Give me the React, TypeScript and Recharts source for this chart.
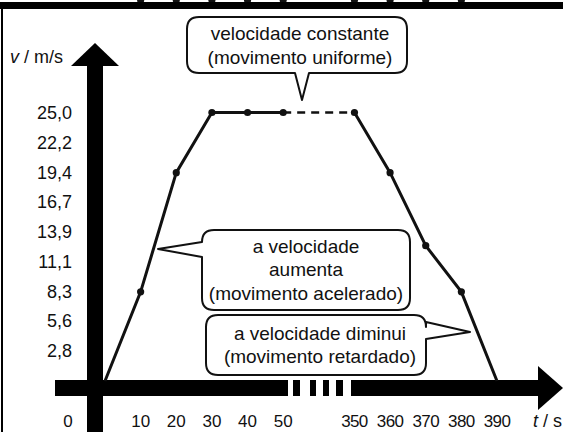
import React from 'react';
import { LineChart, Line, XAxis, YAxis, Customized } from 'recharts';

// tempo (s) e velocidade (m/s)
const times = [0, 10, 20, 30, 40, 50, 350, 360, 370, 380, 390];
const speeds = [0, 8.3, 19.4, 25, 25, 25, 25, 19.4, 12.6, 8.3, 0];
const yTicks = [2.8, 5.6, 8.3, 11.1, 13.9, 16.7, 19.4, 22.2, 25.0];
const xTickTimes = [0, 10, 20, 30, 40, 50, 350, 360, 370, 380, 390];

// the time axis is broken between 50 s and 350 s
const GAP = 280;
const compress = (t: number) => (t <= 50 ? t : t - GAP);
const expand = (p: number) => (p <= 50 ? p : p + GAP);

const rows = times.map((t, i) => ({
    x: compress(t),
    t,
    acc: t <= 50 ? speeds[i] : null,
    dash: t === 50 || t === 350 ? speeds[i] : null,
    dec: t >= 350 ? speeds[i] : null,
}));

const W = 563;
const H = 432;
const FONT = '"Liberation Sans", Arial, Helvetica, sans-serif';
const INK = '#111';

const Dot = (props: any) => {
    const { cx, cy, payload, index } = props;
    if (payload.t === 0 || payload.t === 390) return <g key={'d' + index} />;
    return <circle key={'d' + index} cx={cx} cy={cy} r={3.6} fill={INK} />;
};

const XTick = (props: any) => {
    const { x, y, payload } = props;
    const t = expand(payload.value);
    return (
        <text
            x={t === 0 ? x - 37 : x}
            y={y + 38}
            textAnchor="middle"
            fontFamily={FONT}
            fontSize={17}
            fill={INK}
            letterSpacing={t >= 350 ? -0.6 : 0}
        >
            {t}
        </text>
    );
};

const YTick = (props: any) => {
    const { x, y, payload } = props;
    return (
        <text
            x={x}
            y={y}
            textAnchor="end"
            dominantBaseline="central"
            fontFamily={FONT}
            fontSize={18}
            fill={INK}
        >
            {payload.value.toFixed(1).replace('.', ',')}
        </text>
    );
};

// rounded box with a pointer on one side
const calloutPath = (
    x0: number, y0: number, x1: number, y1: number, r: number,
    side: 'bottom' | 'left' | 'right', p1: number, p2: number, tx: number, ty: number
) => {
    let d = `M${x0 + r},${y0} L${x1 - r},${y0} Q${x1},${y0} ${x1},${y0 + r} `;
    if (side === 'right') d += `L${x1},${p1} L${tx},${ty} L${x1},${p2} `;
    d += `L${x1},${y1 - r} Q${x1},${y1} ${x1 - r},${y1} `;
    if (side === 'bottom') d += `L${p2},${y1} L${tx},${ty} L${p1},${y1} `;
    d += `L${x0 + r},${y1} Q${x0},${y1} ${x0},${y1 - r} `;
    if (side === 'left') d += `L${x0},${p2} L${tx},${ty} L${x0},${p1} `;
    d += `L${x0},${y0 + r} Q${x0},${y0} ${x0 + r},${y0} Z`;
    return d;
};

const Callout = ({ d, lines, cx, y0, step }: { d: string; lines: string[]; cx: number; y0: number; step: number }) => (
    <g>
        <path d={d} fill="#fff" stroke={INK} strokeWidth={2} strokeLinejoin="round" />
        {lines.map((s, i) => (
            <text
                key={i}
                x={cx}
                y={y0 + i * step}
                textAnchor="middle"
                dominantBaseline="central"
                fontFamily={FONT}
                fontSize={19}
                fill={INK}
            >
                {s}
            </text>
        ))}
    </g>
);

const Decor = () => (
    <g>
        {/* eixo v */}
        <rect x={87} y={62} width={16} height={H - 62} fill="#000" />
        <polygon points="95,43 71,66 119,66" fill="#000" />

        {/* eixo t, com interrupção */}
        <rect x={55} y={380} width={233} height={16} fill="#000" />
        <rect x={293} y={380} width={7} height={16} fill="#000" />
        <rect x={310} y={380} width={6} height={16} fill="#000" />
        <rect x={323} y={380} width={6} height={16} fill="#000" />
        <rect x={336} y={380} width={7} height={16} fill="#000" />
        <rect x={351} y={380} width={191} height={16} fill="#000" />
        <polygon points="538,366 563,388 538,410" fill="#000" />

        <text x={10} y={57} dominantBaseline="central" fontFamily={FONT} fontSize={18} fill={INK}>
            <tspan fontStyle="italic">v</tspan> / m/s
        </text>
        <text x={533} y={421} dominantBaseline="central" fontFamily={FONT} fontSize={18} fill={INK}>
            <tspan fontStyle="italic">t</tspan> / s
        </text>

        <Callout
            d={calloutPath(187, 17, 407, 73, 12, 'bottom', 295, 309, 302, 100)}
            lines={['velocidade constante', '(movimento uniforme)']}
            cx={300}
            y0={33}
            step={24}
        />
        <Callout
            d={calloutPath(202, 230, 410, 310, 12, 'left', 242, 257, 158, 249)}
            lines={['a velocidade', 'aumenta', '(movimento acelerado)']}
            cx={306}
            y0={246}
            step={23.5}
        />
        <Callout
            d={calloutPath(206, 315, 426, 375, 12, 'right', 322, 339, 470, 332)}
            lines={['a velocidade diminui', '(movimento retardado)']}
            cx={320}
            y0={333}
            step={23}
        />
    </g>
);

export default function App() {
    return (
        <div style={{ position: 'absolute', left: 0, top: 0, width: W, height: H, background: '#fff', overflow: 'hidden' }}>
            <LineChart
                width={W}
                height={H}
                data={rows}
                margin={{ top: 112.5, right: 66, bottom: 21, left: 0 }}
            >
                <XAxis
                    dataKey="x"
                    type="number"
                    domain={[0, 110]}
                    ticks={xTickTimes.map(compress)}
                    tick={<XTick />}
                    axisLine={false}
                    tickLine={false}
                    height={30}
                    interval={0}
                />
                <YAxis
                    type="number"
                    domain={[0, 25]}
                    ticks={yTicks}
                    tick={<YTick />}
                    axisLine={false}
                    tickLine={false}
                    tickSize={0}
                    tickMargin={33}
                    width={105}
                    interval={0}
                />
                <Line
                    dataKey="dash"
                    stroke={INK}
                    strokeWidth={2.5}
                    strokeDasharray="8 6"
                    dot={false}
                    connectNulls={false}
                    isAnimationActive={false}
                />
                <Line
                    dataKey="acc"
                    stroke={INK}
                    strokeWidth={3}
                    dot={<Dot />}
                    connectNulls={false}
                    isAnimationActive={false}
                />
                <Line
                    dataKey="dec"
                    stroke={INK}
                    strokeWidth={3}
                    dot={<Dot />}
                    connectNulls={false}
                    isAnimationActive={false}
                />
                <Customized component={<Decor />} />
            </LineChart>
            {/* moldura */}
            <div style={{ position: 'absolute', left: 0, top: 2, width: W, height: 7, background: '#000', zIndex: 50 }} />
            <div style={{ position: 'absolute', left: 1, top: 9, width: 2, height: H - 9, background: '#000', zIndex: 50 }} />
        </div>
    );
}
